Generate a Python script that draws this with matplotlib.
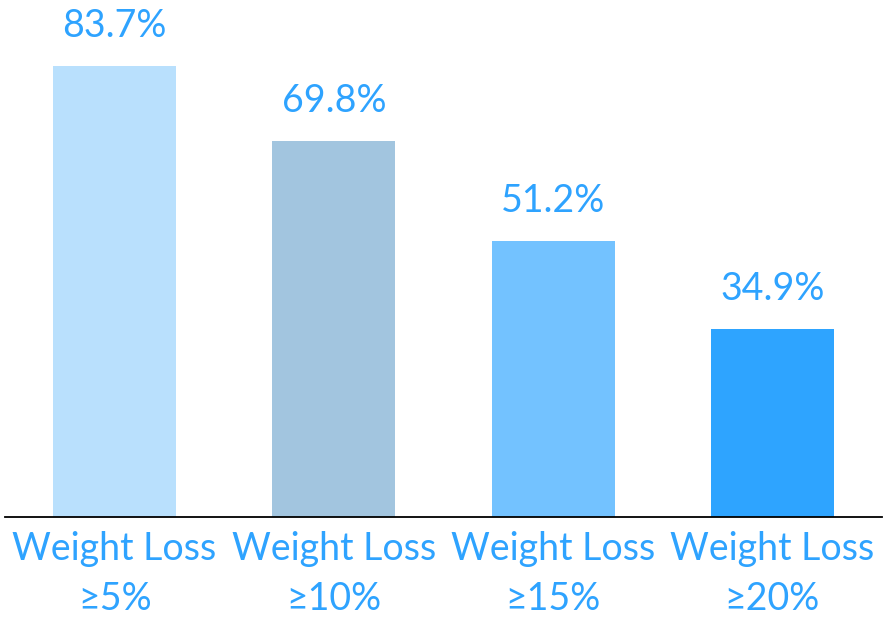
import matplotlib.pyplot as plt

categories = ["Weight Loss\n≥5%", "Weight Loss\n≥10%", "Weight Loss\n≥15%", "Weight Loss\n≥20%"]
values = [83.7, 69.8, 51.2, 34.9]
bar_colors = ["#B9E0FD", "#A2C5DF", "#73C2FF", "#2EA4FF"]
text_color = "#2EA3FF"

plt.rcParams['font.family'] = ['Lato', 'DejaVu Sans']

fig = plt.figure(figsize=(8.84, 6.17), dpi=100)
W, H = 884, 617
# axes spans the baseline line, top runs to the top edge
ax = fig.add_axes([5 / W, 100 / H, 877 / W, 517 / H])

x = range(len(values))
ax.bar(x, values, width=0.56, color=bar_colors)
ax.set_xlim(-0.5, 3.5)
ax.set_ylim(0, 517 / 5.39)

for xi, v in zip(x, values):
    ax.annotate(f"{v:.1f}%", (xi, v), xytext=(0, 21), textcoords="offset points",
                ha="center", va="baseline", color=text_color, fontsize=27,
                annotation_clip=False)

ax.set_xticks(list(x))
ax.set_xticklabels(categories, color=text_color, fontsize=27, linespacing=1.5)
ax.tick_params(axis="x", length=0, pad=10)
ax.set_yticks([])
for side in ["top", "left", "right"]:
    ax.spines[side].set_visible(False)
ax.spines["bottom"].set_linewidth(1.3)
ax.spines["bottom"].set_color("black")

fig.savefig("out.png", dpi=100)
